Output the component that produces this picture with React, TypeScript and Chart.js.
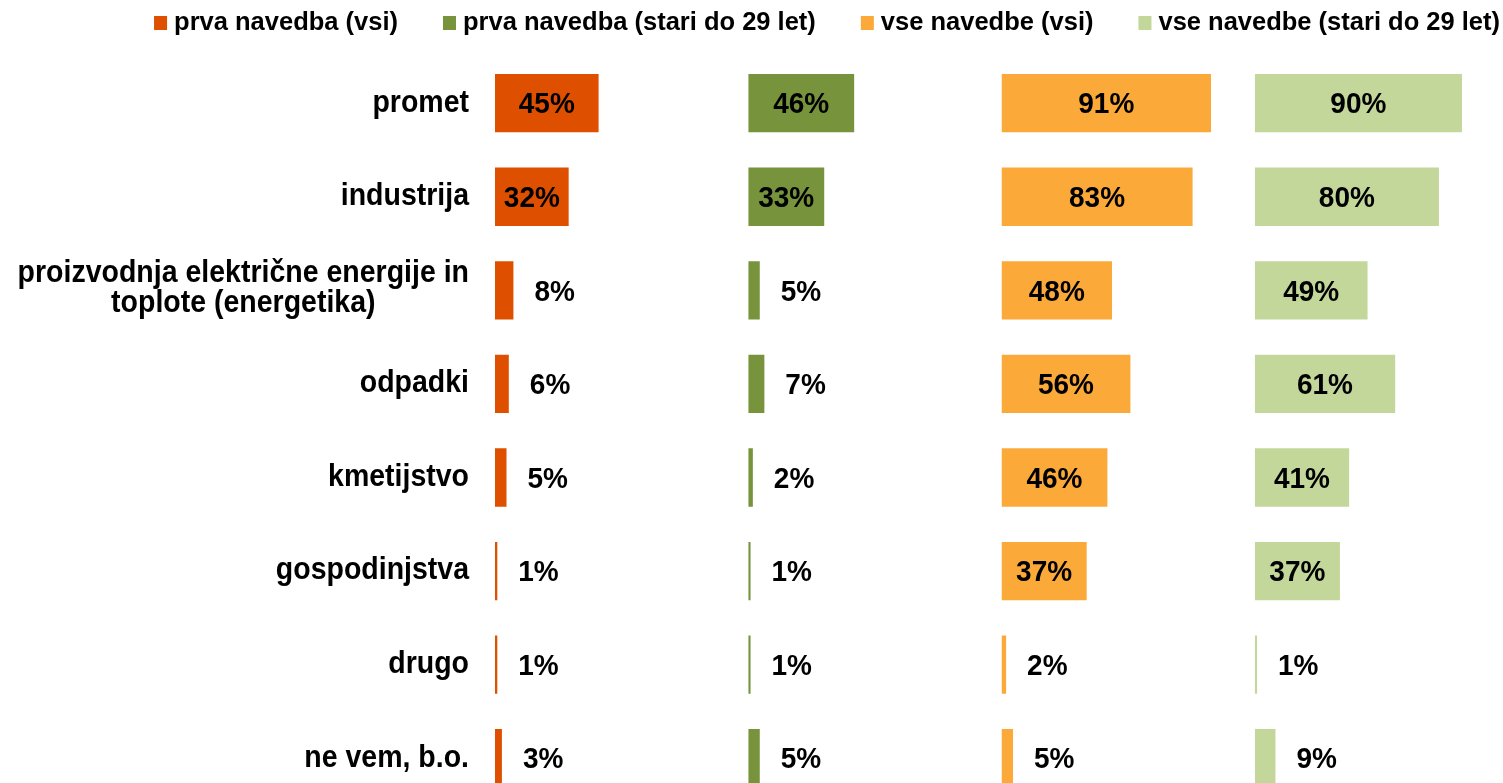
import { useEffect, useRef } from 'react';
import { Chart, registerables } from 'chart.js';

Chart.register(...registerables);

// ---- data ----
const categories: (string | string[])[] = [
  'promet',
  'industrija',
  ['proizvodnja električne energije in', 'toplote (energetika)'],
  'odpadki',
  'kmetijstvo',
  'gospodinjstva',
  'drugo',
  'ne vem, b.o.',
];

const seriesNames = [
  'prva navedba (vsi)',
  'prva navedba (stari do 29 let)',
  'vse navedbe (vsi)',
  'vse navedbe (stari do 29 let)',
];

const prvaVsi = [45, 32, 8, 6, 5, 1, 1, 3];
const prvaMladi = [46, 33, 5, 7, 2, 1, 1, 5];
const vseVsi = [91, 83, 48, 56, 46, 37, 2, 5];
const vseMladi = [90, 80, 49, 61, 41, 37, 1, 9];

const seriesColors = ['#DF4F00', '#77933C', '#FBAA3A', '#C4D79B'];
const axisMax = 110;

const FONT = '"Liberation Sans", Arial, Helvetica, sans-serif';

// draw text with a slight vertical stretch (the reference glyphs are a bit taller)
function stretchedText(ctx: CanvasRenderingContext2D, text: string, x: number, y: number, sy: number) {
  ctx.save();
  ctx.translate(x, y);
  ctx.scale(1, sy);
  ctx.fillText(text, 0, 0);
  ctx.restore();
}

// ---- plugins ----
const legendPlugin = {
  id: 'customLegend',
  afterDraw(chart: any) {
    const ctx = chart.ctx as CanvasRenderingContext2D;
    ctx.save();
    ctx.font = `bold 25.5px ${FONT}`;
    ctx.textBaseline = 'middle';
    ctx.textAlign = 'left';
    const box = 13;
    const boxH = 14;
    const gapText = 7;
    const gapItem = 45;
    const widths = seriesNames.map((n) => ctx.measureText(n).width);
    const total =
      widths.reduce((a, w) => a + box + gapText + w, 0) + gapItem * (seriesNames.length - 1);
    let x = 1500 - total;
    const cy = 23;
    seriesNames.forEach((n, i) => {
      ctx.fillStyle = seriesColors[i];
      ctx.fillRect(x, cy - boxH / 2, box, boxH);
      ctx.fillStyle = '#000';
      ctx.fillText(n, x + box + gapText, cy);
      x += box + gapText + widths[i] + gapItem;
    });
    ctx.restore();
  },
};

const categoryLabelPlugin = {
  id: 'categoryLabels',
  afterDatasetsDraw(chart: any) {
    const ctx = chart.ctx as CanvasRenderingContext2D;
    const yScale = chart.scales.y;
    ctx.save();
    ctx.font = `bold 28.5px ${FONT}`;
    ctx.fillStyle = '#000';
    ctx.textBaseline = 'middle';
    const rightX = chart.chartArea.left - 26;
    categories.forEach((c, i) => {
      const cy = yScale.getPixelForValue(i);
      if (Array.isArray(c)) {
        const w = Math.max(...c.map((l) => ctx.measureText(l).width));
        const cx = rightX - w / 2;
        ctx.textAlign = 'center';
        const lh = 30;
        c.forEach((line, j) => {
          stretchedText(ctx, line, cx, cy + (j - (c.length - 1) / 2) * lh - 1.5, 1.07);
        });
      } else {
        ctx.textAlign = 'right';
        stretchedText(ctx, c, rightX, cy, 1.07);
      }
    });
    ctx.restore();
  },
};

const valueLabelPlugin = {
  id: 'valueLabels',
  afterDatasetsDraw(chart: any) {
    const ctx = chart.ctx as CanvasRenderingContext2D;
    ctx.save();
    ctx.font = `bold 28px ${FONT}`;
    ctx.fillStyle = '#000';
    ctx.textBaseline = 'middle';
    chart.data.datasets.forEach((ds: any, di: number) => {
      const meta = chart.getDatasetMeta(di);
      meta.data.forEach((bar: any, i: number) => {
        const v = ds.data[i] as number;
        const { x, y, base } = bar.getProps(['x', 'y', 'base'], true);
        const text = `${Math.round(v)}%`;
        if (v >= 15) {
          ctx.textAlign = 'center';
          stretchedText(ctx, text, (x + base) / 2, y + 2, 1.06);
        } else {
          ctx.textAlign = 'left';
          stretchedText(ctx, text, x + 21, y + 2, 1.06);
        }
      });
    });
    ctx.restore();
  },
};

const seriesValues = [prvaVsi, prvaMladi, vseVsi, vseMladi];
const axisIds = ['x1', 'x2', 'x3', 'x4'];

export default function App() {
  const ref = useRef<HTMLCanvasElement>(null);

  useEffect(() => {
    if (!ref.current) return;
    const panelScale = () => ({
      type: 'linear' as const,
      position: 'bottom' as const,
      stack: 'panels',
      stackWeight: 1,
      min: 0,
      max: axisMax,
      display: false,
    });
    const scales: any = {
      y: {
        type: 'category',
        position: 'left',
        offset: true,
        grid: { display: false, drawTicks: false },
        border: { display: false },
        ticks: { display: false },
        afterFit(s: any) {
          s.width = 495;
        },
      },
    };
    axisIds.forEach((id) => (scales[id] = panelScale()));

    const chart = new Chart(ref.current, {
      type: 'bar',
      data: {
        labels: categories as any,
        datasets: seriesValues.map((vals, i) => ({
          label: seriesNames[i],
          data: vals,
          backgroundColor: seriesColors[i],
          borderWidth: 0,
          xAxisID: axisIds[i],
          yAxisID: 'y',
          indexAxis: 'y' as const,
          grouped: false,
          categoryPercentage: 1,
          barPercentage: 0.623,
        })),
      },
      options: {
        indexAxis: 'y',
        responsive: false,
        animation: false,
        layout: { padding: { top: 56.4, right: 2, bottom: 0, left: 0 } },
        plugins: {
          legend: { display: false },
          tooltip: { enabled: false },
          title: { display: false },
        },
        scales,
      },
      plugins: [legendPlugin, categoryLabelPlugin, valueLabelPlugin],
    });
    return () => chart.destroy();
  }, []);

  return (
    <div
      style={{
        position: 'fixed',
        left: 0,
        top: 0,
        width: 1503,
        height: 783,
        overflow: 'hidden',
        background: '#fff',
      }}
    >
      <canvas ref={ref} width={1510} height={805} style={{ display: 'block' }} />
    </div>
  );
}
